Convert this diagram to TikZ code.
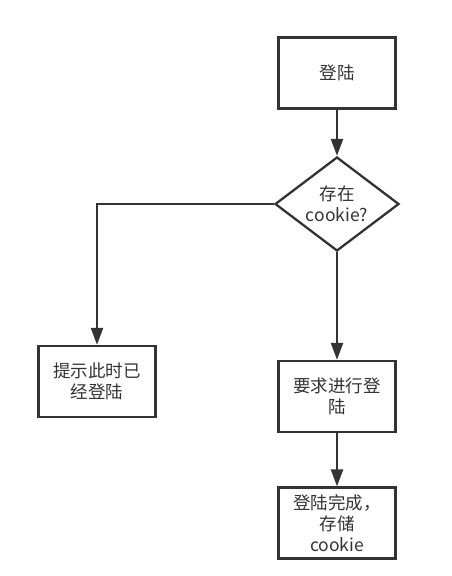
\documentclass[tikz,border=0pt]{standalone}
\usepackage{fontspec}
\setmainfont{Noto Sans CJK SC}
\usetikzlibrary{shapes.geometric,arrows.meta}
\definecolor{ink}{HTML}{333333}
\begin{document}
\begin{tikzpicture}[x=1pt,y=-1pt,
  every node/.style={font=\fontsize{17.5}{21}\selectfont, text=ink, align=center},
  box/.style={draw=ink, line width=2.3pt, fill=white, rectangle, inner sep=0pt, minimum width=117pt, minimum height=71pt},
  decision/.style={draw=ink, line width=2.3pt, fill=white, diamond, aspect=1.32, inner sep=0pt, minimum width=124pt, minimum height=94pt},
  arr/.style={draw=ink, line width=2.3pt, -{Triangle[length=17pt,width=12pt]}}]
\useasboundingbox[fill=white] (0,0) rectangle (452,576);
\node[box] (login) at (337,73) {登陆};
\node[decision] (decide) at (337,204) {存在\\cookie?};
\node[box] (hint) at (97,381.5) {提示此时已\\经登陆};
\node[box] (req) at (337,396.5) {要求进行登\\陆};
\node[box] (done) at (337,523) {登陆完成，\\存储\\cookie};
\draw[arr] (login) -- (decide);
\draw[arr] (decide.west) -| (hint.north);
\draw[arr] (decide.south) -- (req.north);
\draw[arr] (req) -- (done);
\end{tikzpicture}
\end{document}
